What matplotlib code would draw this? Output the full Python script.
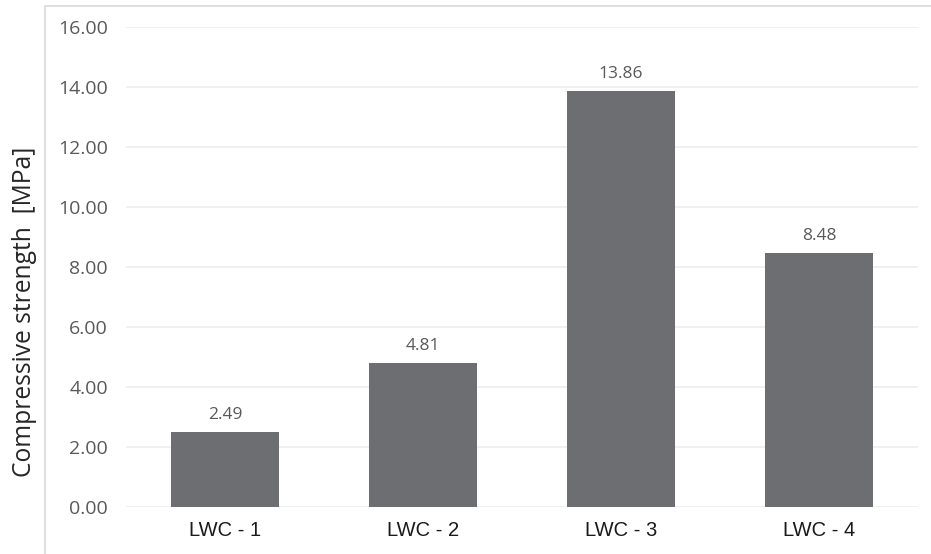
import matplotlib.pyplot as plt
from matplotlib.patches import Rectangle

samples = ["LWC - 1", "LWC - 2", "LWC - 3", "LWC - 4"]
strength = [2.49, 4.81, 13.86, 8.48]
yticks = [0, 2, 4, 6, 8, 10, 12, 14, 16]


def draw_graph():
    fig = plt.figure(figsize=(9.31, 5.54), dpi=100)
    ax = fig.add_axes([126 / 931, 47 / 554, 792 / 931, 480 / 554])

    # light frame around the chart area
    fig.patches.append(Rectangle((45 / 931, -0.01), 1.0, (554 - 6) / 554 + 0.01,
                                 transform=fig.transFigure, fill=False,
                                 edgecolor="#d9d9d9", linewidth=1.2))

    x = range(len(samples))
    bars = ax.bar(x, strength, width=0.55, color="#6d6e71", zorder=2)

    for b, v in zip(bars, strength):
        ax.text(b.get_x() + b.get_width() / 2, v + 0.3, "%.2f" % v,
                ha="center", va="bottom", fontsize=12.5, color="#595959",
                family="Open Sans")

    ax.set_xlim(-0.5, len(samples) - 0.5)
    ax.set_ylim(0, 16)
    ax.set_yticks(yticks)
    ax.set_yticklabels(["%.2f" % t for t in yticks], family="Open Sans",
                       fontsize=14, color="#595959")
    ax.set_xticks(list(x))
    ax.set_xticklabels(samples, family="Liberation Sans", fontsize=14.5,
                       color="#1a1a1a")
    ax.tick_params(axis="y", length=0, pad=13)
    ax.tick_params(axis="x", length=0, pad=10)

    ax.grid(axis="y", color="#eeeeee", linewidth=1.2, zorder=0)
    for s in ax.spines.values():
        s.set_visible(False)

    ax.set_ylabel("Compressive strength  [MPa]", family="Open Sans",
                  fontsize=17.75, color="#262626")
    ax.yaxis.set_label_coords(-0.112, 0.406)

    fig.savefig("out.png", dpi=100)


if __name__ == '__main__':
    draw_graph()
